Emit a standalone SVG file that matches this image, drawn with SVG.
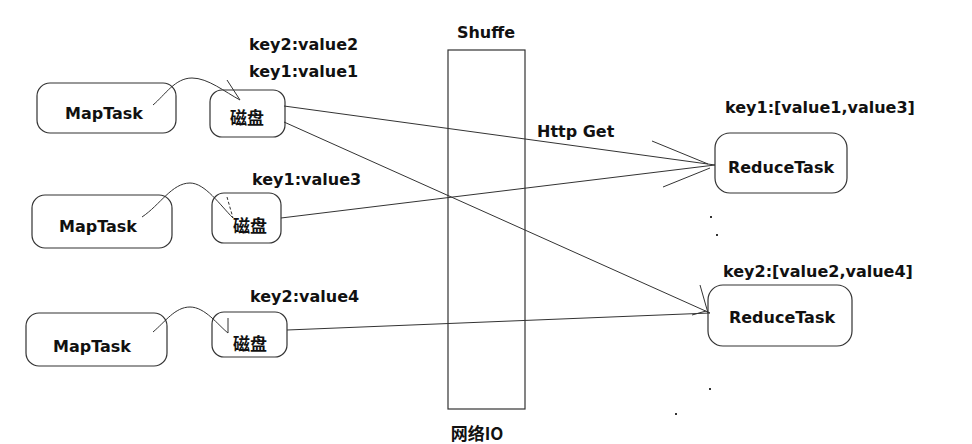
<svg xmlns="http://www.w3.org/2000/svg" width="972" height="444" viewBox="0 0 972 444">
<style>
.box{fill:#fff;stroke:#333;stroke-width:1.2}
.t{font-family:"DejaVu Sans","Noto Sans CJK SC",sans-serif;font-weight:bold;font-size:16px;fill:#111}
.cj{font-family:"Noto Sans CJK SC",sans-serif;font-weight:bold;font-size:17px;fill:#111}
.c{text-anchor:middle}
.ln{fill:none;stroke:#333;stroke-width:1}
</style>
<rect width="972" height="444" fill="#fff"/>
<g id="shuffle">
<rect class="box" x="448" y="50" width="77" height="359"/>
<text class="t c" x="486" y="38">Shuffe</text>
<text class="cj c" x="477" y="440">网络IO</text>
</g>
<g id="map1"><rect class="box" x="37" y="83" width="139" height="50" rx="13"/><text class="t c" x="104" y="119">MapTask</text></g>
<g id="disk1"><rect class="box" x="210" y="90" width="75" height="47" rx="12"/><text class="cj c" x="247" y="124">磁盘</text></g>
<g id="map2"><rect class="box" x="32" y="195" width="140" height="53" rx="13"/><text class="t c" x="98" y="232">MapTask</text></g>
<g id="disk2"><rect class="box" x="212" y="193" width="69" height="50" rx="12"/><text class="cj c" x="250" y="232">磁盘</text></g>
<g id="map3"><rect class="box" x="26" y="313" width="141" height="53" rx="13"/><text class="t c" x="92" y="352">MapTask</text></g>
<g id="disk3"><rect class="box" x="212" y="312" width="75" height="45" rx="12"/><text class="cj c" x="250" y="350">磁盘</text></g>
<g id="reduce1"><rect class="box" x="715" y="133" width="132" height="60" rx="15"/><text class="t c" x="781" y="173">ReduceTask</text></g>
<g id="reduce2"><rect class="box" x="708" y="285" width="144" height="61" rx="15"/><text class="t c" x="782" y="323">ReduceTask</text></g>
<g id="labels">
<text class="t" x="249" y="50">key2:value2</text>
<text class="t" x="249" y="77">key1:value1</text>
<text class="t" x="252" y="185">key1:value3</text>
<text class="t" x="250" y="302">key2:value4</text>
<text class="t" x="537" y="137">Http Get</text>
<text class="t" x="725" y="113">key1:[value1,value3]</text>
<text class="t" x="723" y="277">key2:[value2,value4]</text>
</g>
<g id="connectors">
<path class="ln" d="M153 105 C165 95 175 78 192 78 C208 78 225 92 240 100"/>
<path class="ln" d="M227 80 L240 100"/>
<path class="ln" d="M142 217 C160 205 172 183 190 183 C205 183 220 205 233 218"/>
<path class="ln" d="M227 197 L233 218" stroke-dasharray="3 2"/>
<path class="ln" d="M153 332 C165 322 175 307 190 307 C205 307 218 325 228 333"/>
<path class="ln" d="M228 318 L228 333"/>
<path class="ln" d="M284 106 L715 165"/>
<path class="ln" d="M284 122 L710 313"/>
<path class="ln" d="M281 218 L715 165"/>
<path class="ln" d="M287 330 L710 313"/>
<path class="ln" d="M652 141 L708 164"/>
<path class="ln" d="M663 187 L710 168"/>
<path class="ln" d="M700 285 L708 313"/>
<path class="ln" d="M692 315 L706 311"/>
</g>
<g id="dots" fill="#333">
<rect x="710" y="216" width="2" height="2"/>
<rect x="716" y="234" width="2" height="2"/>
<rect x="709" y="388" width="2" height="2"/>
<rect x="675" y="413" width="2" height="2"/>
</g>
</svg>
